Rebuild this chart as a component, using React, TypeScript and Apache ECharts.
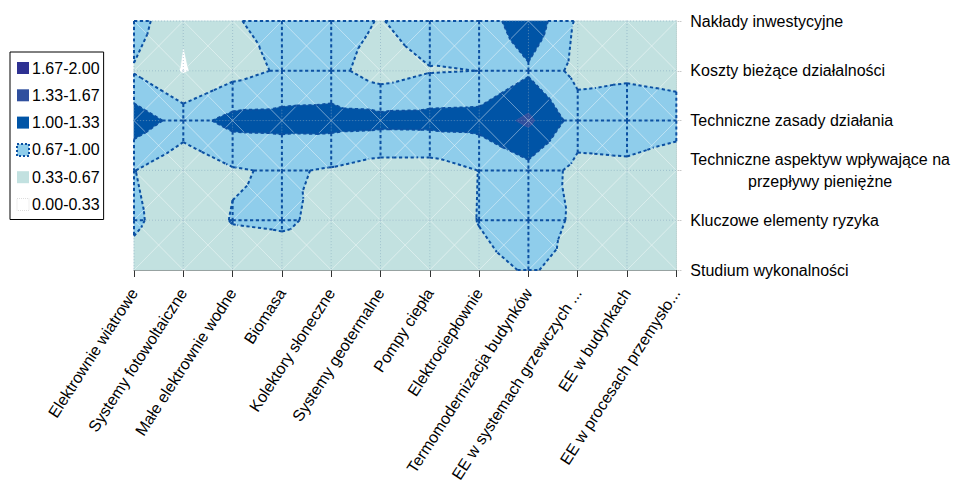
import React, { useEffect, useRef } from 'react';
import * as echarts from 'echarts';

const technologies = [
  'Elektrownie wiatrowe',
  'Systemy fotowoltaiczne',
  'Małe elektrownie wodne',
  'Biomasa',
  'Kolektory słoneczne',
  'Systemy geotermalne',
  'Pompy ciepła',
  'Elektrociepłownie',
  'Termomodernizacja budynków',
  'EE w systemach grzewczych ...',
  'EE w budynkach',
  'EE w procesach przemysło...',
];

const aspects = [
  'Nakłady inwestycyjne',
  'Koszty bieżące działalności',
  'Techniczne zasady działania',
  'Techniczne aspektyw wpływające na\nprzepływy pieniężne',
  'Kluczowe elementy ryzyka',
  'Studium wykonalności',
];

// values per aspect (row), one per technology (column)
const valNaklady = [0.83, 0.36, 0.65, 0.75, 0.82, 0.65, 0.87, 0.78, 1.25, 0.62, 0.6, 0.6];
const valKoszty = [0.64, 0.3, 0.55, 0.71, 0.77, 0.51, 0.65, 0.672, 0.945, 0.565, 0.61, 0.575];
const valZasady = [1.19, 0.86, 1.1, 1.11, 1.12, 1.1, 1.11, 1.125, 1.4, 0.84, 0.85, 0.8];
const valAspekty = [0.68, 0.42, 0.64, 0.71, 0.64, 0.52, 0.515, 0.675, 0.89, 0.575, 0.6, 0.49];
const valRyzyko = [0.74, 0.42, 0.69, 0.72, 0.58, 0.52, 0.48, 0.68, 0.82, 0.62, 0.55, 0.5];
const valStudium = [0.52, 0.325, 0.44, 0.5, 0.52, 0.5, 0.5, 0.6, 0.69, 0.6, 0.52, 0.5];

const gridValues = [valNaklady, valKoszty, valZasady, valAspekty, valRyzyko, valStudium];

const levels = [0, 0.33, 0.67, 1.0, 1.33, 1.67, 2.0];
const bandColors = ['#ffffff', '#c2e1e0', '#8fcdeb', '#0054a6', '#2f4f9e', '#2e3192'];
const bandLabels = bandColors.map((_, i) => `${levels[i].toFixed(2)}-${levels[i + 1].toFixed(2)}`);

const FONT = "'Liberation Sans', Arial, sans-serif";
const DASH_COLOR = '#0b50a2';
const OUTLINED_BAND = 2; // 0.67-1.00

type P = { x: number; y: number; v: number };

function clip(poly: P[], L: number, keepAbove: boolean): P[] {
  const out: P[] = [];
  const n = poly.length;
  for (let i = 0; i < n; i++) {
    const a = poly[i];
    const b = poly[(i + 1) % n];
    const ina = keepAbove ? a.v >= L : a.v <= L;
    const inb = keepAbove ? b.v >= L : b.v <= L;
    if (ina) out.push(a);
    if (ina !== inb) {
      const t = (L - a.v) / (b.v - a.v);
      out.push({ x: a.x + t * (b.x - a.x), y: a.y + t * (b.y - a.y), v: L });
    }
  }
  return out;
}

function cellCorners(api: any, c: number, r: number) {
  const pt = (ci: number, ri: number): P => {
    const p = api.coord([ci, ri]);
    return { x: p[0], y: p[1], v: gridValues[ri][ci] };
  };
  const tl = pt(c, r);
  const tr = pt(c + 1, r);
  const br = pt(c + 1, r + 1);
  const bl = pt(c, r + 1);
  const m: P = {
    x: (tl.x + tr.x + br.x + bl.x) / 4,
    y: (tl.y + tr.y + br.y + bl.y) / 4,
    v: (tl.v + tr.v + br.v + bl.v) / 4,
  };
  return { tl, tr, br, bl, m, tris: [[tl, tr, m], [tr, br, m], [br, bl, m], [bl, tl, m]] as P[][] };
}

function levelSeg(tri: P[], L: number): number[][] | null {
  const pts: number[][] = [];
  for (let i = 0; i < 3; i++) {
    const a = tri[i];
    const b = tri[(i + 1) % 3];
    if ((a.v - L) * (b.v - L) < 0) {
      const t = (L - a.v) / (b.v - a.v);
      pts.push([a.x + t * (b.x - a.x), a.y + t * (b.y - a.y)]);
    }
  }
  return pts.length === 2 ? pts : null;
}

function bandPart(a: P, b: P, lo: number, hi: number): number[][] | null {
  const dv = b.v - a.v;
  let t0 = 0;
  let t1 = 1;
  if (Math.abs(dv) < 1e-9) {
    if (a.v < lo || a.v > hi) return null;
  } else {
    let ta = (lo - a.v) / dv;
    let tb = (hi - a.v) / dv;
    if (ta > tb) [ta, tb] = [tb, ta];
    t0 = Math.max(0, ta);
    t1 = Math.min(1, tb);
    if (t1 <= t0) return null;
  }
  return [
    [a.x + t0 * (b.x - a.x), a.y + t0 * (b.y - a.y)],
    [a.x + t1 * (b.x - a.x), a.y + t1 * (b.y - a.y)],
  ];
}

const nCols = technologies.length;
const nRows = aspects.length;
const cells: number[][] = [];
for (let r = 0; r < nRows - 1; r++) {
  for (let c = 0; c < nCols - 1; c++) cells.push([c, r]);
}

function bandSeries(b: number) {
  const lo = b === 0 ? -Infinity : levels[b];
  const hi = b === bandColors.length - 1 ? Infinity : levels[b + 1];
  return {
    type: 'custom',
    name: bandLabels[b],
    z: 2,
    data: cells,
    encode: { x: 0, y: 1 },
    itemStyle: { color: bandColors[b] },
    renderItem: (params: any, api: any) => {
      const c = api.value(0);
      const r = api.value(1);
      const { tris } = cellCorners(api, c, r);
      const children: any[] = [];
      tris.forEach((tri) => {
        const poly = clip(clip(tri, lo, true), hi, false);
        if (poly.length >= 3) {
          children.push({
            type: 'polygon',
            shape: { points: poly.map((p) => [p.x, p.y]) },
            style: { fill: bandColors[b], stroke: bandColors[b], lineWidth: 0.7 },
            silent: true,
          });
        }
      });
      return { type: 'group', children };
    },
  };
}

const faintSeries = {
  type: 'custom',
  z: 3,
  data: cells,
  encode: { x: 0, y: 1 },
  renderItem: (params: any, api: any) => {
    const c = api.value(0);
    const r = api.value(1);
    const { tl, tr, br, bl } = cellCorners(api, c, r);
    const diag = { stroke: 'rgba(255,255,255,0.4)', lineWidth: 1 };
    const gridStyle = { stroke: 'rgba(130,165,190,0.55)', lineWidth: 1, lineDash: [1, 2] };
    const children: any[] = [
      { type: 'line', shape: { x1: tl.x, y1: tl.y, x2: br.x, y2: br.y }, style: diag, silent: true },
      { type: 'line', shape: { x1: tr.x, y1: tr.y, x2: bl.x, y2: bl.y }, style: diag, silent: true },
      { type: 'line', shape: { x1: tl.x, y1: tl.y, x2: tr.x, y2: tr.y }, style: gridStyle, silent: true },
      { type: 'line', shape: { x1: tl.x, y1: tl.y, x2: bl.x, y2: bl.y }, style: gridStyle, silent: true },
    ];
    return { type: 'group', children };
  },
};

const dashedSeries = {
  type: 'custom',
  z: 4,
  data: cells,
  encode: { x: 0, y: 1 },
  renderItem: (params: any, api: any) => {
    const c = api.value(0);
    const r = api.value(1);
    const { tl, tr, br, bl, tris } = cellCorners(api, c, r);
    const lo = levels[OUTLINED_BAND];
    const hi = levels[OUTLINED_BAND + 1];
    const style = { stroke: DASH_COLOR, lineWidth: 2, lineDash: [3.2, 2.6] };
    const segs: number[][][] = [];
    tris.forEach((tri) => {
      [lo, hi].forEach((L) => {
        const s = levelSeg(tri, L);
        if (s) segs.push(s);
      });
    });
    const edges: P[][] = [[tl, tr], [tl, bl]];
    if (c === nCols - 2) edges.push([tr, br]);
    if (r === nRows - 2) edges.push([bl, br]);
    edges.forEach(([a, b]) => {
      const s = bandPart(a, b, lo, hi);
      if (s) segs.push(s);
    });
    return {
      type: 'group',
      children: segs.map((s) => ({
        type: 'line',
        shape: { x1: s[0][0], y1: s[0][1], x2: s[1][0], y2: s[1][1] },
        style,
        silent: true,
      })),
    };
  },
};

const legendOrder = [5, 4, 3, 2, 1, 0];

const option: any = {
  animation: false,
  backgroundColor: '#ffffff',
  textStyle: { fontFamily: FONT },
  grid: { left: 134, top: 21, width: 550, height: 249, containLabel: false },
  legend: {
    orient: 'vertical',
    left: 10,
    top: 52,
    padding: [8, 4, 7, 6],
    itemWidth: 12,
    itemHeight: 12,
    itemGap: 11.3,
    icon: 'rect',
    selectedMode: false,
    borderColor: '#000',
    borderWidth: 1,
    textStyle: { fontSize: 16, color: '#000', fontFamily: FONT, padding: [0, 0, 0, -2] },
    data: legendOrder.map((i) => ({
      name: bandLabels[i],
      itemStyle:
        i === OUTLINED_BAND
          ? { color: bandColors[i], borderColor: DASH_COLOR, borderWidth: 2, borderType: [2, 2] }
          : i === 0
          ? { color: '#ffffff', borderColor: '#dddddd', borderWidth: 1, borderType: 'dotted' }
          : { color: bandColors[i], borderWidth: 0 },
    })),
  },
  xAxis: {
    type: 'category',
    data: technologies,
    boundaryGap: false,
    axisLine: { show: true, lineStyle: { color: '#808080', width: 1 } },
    axisTick: { show: true, length: 7, lineStyle: { color: '#333333' } },
    axisLabel: {
      interval: 0,
      rotate: 57,
      margin: 20,
      fontSize: 16,
      color: '#000',
      fontFamily: FONT,
    },
    splitLine: { show: false },
  },
  yAxis: {
    type: 'category',
    data: aspects,
    inverse: true,
    position: 'right',
    boundaryGap: false,
    axisLine: { show: true, lineStyle: { color: '#b0b0b0', type: 'dotted' } },
    axisTick: { show: true, length: 6, lineStyle: { color: '#b0b0b0', type: 'dotted' } },
    axisLabel: {
      interval: 0,
      margin: 14,
      fontSize: 16,
      color: '#000',
      fontFamily: FONT,
      formatter: (v: string) =>
        v.indexOf('\n') >= 0 ? v.split('\n').map((l) => `{c|${l}}`).join('\n') : v,
      rich: {
        c: { align: 'center', fontSize: 16, lineHeight: 22, color: '#000', fontFamily: FONT },
      },
    },
    splitLine: { show: false },
  },
  series: [...bandColors.map((_, b) => bandSeries(b)), faintSeries, dashedSeries],
};

export default function App() {
  const ref = useRef<HTMLDivElement>(null);
  useEffect(() => {
    const chart = echarts.init(ref.current!, null, { renderer: 'svg' });
    chart.setOption(option);
    return () => chart.dispose();
  }, []);
  return (
    <div
      ref={ref}
      style={{ position: 'fixed', left: 0, top: 0, width: 953, height: 493, background: '#fff' }}
    />
  );
}
